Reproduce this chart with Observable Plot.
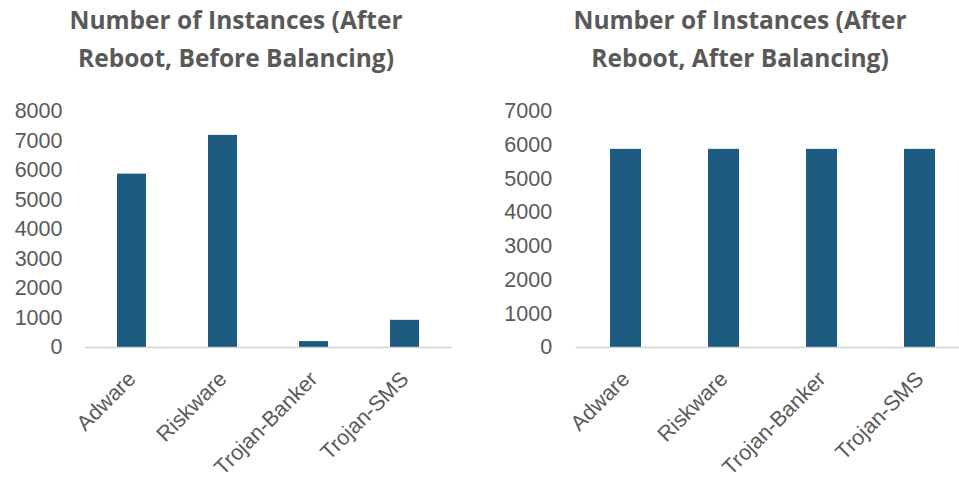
<!DOCTYPE html>
<html>
<head>
<meta charset="utf-8">
<script src="https://cdn.jsdelivr.net/npm/d3@7"></script>
<script src="https://cdn.jsdelivr.net/npm/@observablehq/plot@0.6"></script>
<style>
  html, body { margin: 0; padding: 0; background: #fff; overflow: hidden; }
  #wrap { position: relative; width: 959px; height: 479px; overflow: hidden; background: #fff; }
  .panel { position: absolute; top: 0; height: 479px; overflow: hidden; }
  .title {
    position: absolute; top: 1px; transform: translateX(-50%);
    font-family: "Open Sans", sans-serif; font-weight: 700; font-size: 24.5px;
    line-height: 38px; color: #595959; text-align: center; white-space: nowrap;
  }
  .chart { position: absolute; top: 90px; left: 0; }
  .chart svg { background: transparent !important; max-width: none !important; }
</style>
</head>
<body>
<div id="wrap">
  <div class="panel" id="left" style="left:0;width:480px;">
    <div class="title" style="left:236px;">Number of Instances (After<br>Reboot, Before Balancing)</div>
    <div class="chart"></div>
  </div>
  <div class="panel" id="right" style="left:480px;width:479px;">
    <div class="title" style="left:260px;">Number of Instances (After<br>Reboot, After Balancing)</div>
    <div class="chart"></div>
  </div>
</div>
<script>
// Malware families and instance counts after reboot
const categories = ["Adware", "Riskware", "Trojan-Banker", "Trojan-SMS"];
const beforeBalancing = [5870, 7180, 200, 920];
const afterBalancing = [5870, 5870, 5870, 5870];
const ticksBefore = [0, 1000, 2000, 3000, 4000, 5000, 6000, 7000, 8000];
const ticksAfter = [0, 1000, 2000, 3000, 4000, 5000, 6000, 7000];

const barColor = "#1d5b80";
const textColor = "#595959";

function barChart(values, ticks, opts) {
  const rows = categories.map((c, i) => ({category: c, count: values[i]}));
  return Plot.plot({
    width: opts.width,
    height: 389,
    marginTop: 20.7,
    marginBottom: 132,
    marginLeft: opts.marginLeft,
    marginRight: opts.marginRight,
    style: {fontFamily: "'Liberation Sans', Arial, sans-serif", color: textColor, background: "transparent"},
    x: {domain: categories, paddingInner: 0.68, paddingOuter: 0.34, axis: null},
    y: {domain: [0, ticks[ticks.length - 1]], axis: null},
    marks: [
      Plot.axisY({ticks, label: null, tickFormat: d => String(d), tickSize: 0, tickPadding: opts.tickPadding, fontSize: 21.5, fill: textColor}),
      Plot.barY(rows, {x: "category", y: "count", fill: barColor}),
      Plot.ruleY([0], {stroke: "#d4d4d4", strokeWidth: 1.5}),
      Plot.text(rows, {x: "category", y: () => 0, text: "category", rotate: -45, textAnchor: "end",
        lineAnchor: "middle", dy: 28, dx: 0, fontSize: 21.5, fill: textColor})
    ]
  });
}

document.querySelector("#left .chart").append(
  barChart(beforeBalancing, ticksBefore, {width: 480, marginLeft: 85, marginRight: 28, tickPadding: 23})
);
document.querySelector("#right .chart").append(
  barChart(afterBalancing, ticksAfter, {width: 491, marginLeft: 95.65, marginRight: 0.65, tickPadding: 24})
);
</script>
</body>
</html>
